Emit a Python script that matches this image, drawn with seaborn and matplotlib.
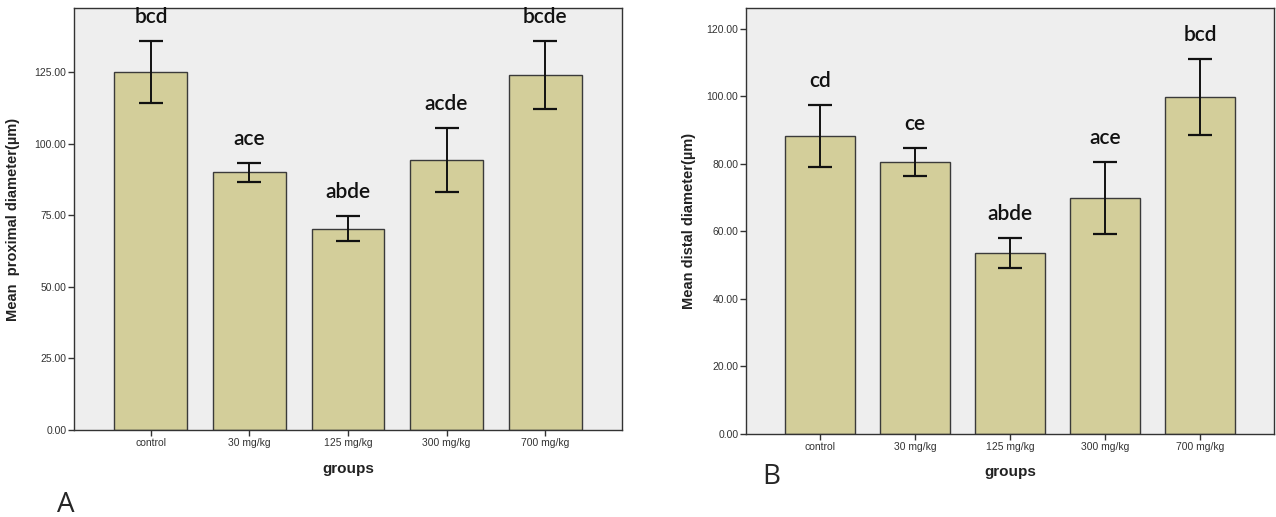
import matplotlib
matplotlib.use("Agg")
import matplotlib.pyplot as plt
import numpy as np
import seaborn as sns

# data
groups = ["control", "30 mg/kg", "125 mg/kg", "300 mg/kg", "700 mg/kg"]

prox_mean = [125.3, 90.1, 70.4, 94.3, 124.0]
prox_low = [114.4, 86.8, 66.0, 83.2, 112.1]
prox_high = [136.0, 93.4, 74.9, 105.6, 136.0]
prox_letters = ["bcd", "ace", "abde", "acde", "bcde"]

dist_mean = [88.4, 80.5, 53.7, 69.9, 99.9]
dist_low = [79.1, 76.4, 49.3, 59.3, 88.7]
dist_high = [97.5, 84.7, 58.2, 80.5, 111.1]
dist_letters = ["cd", "ce", "abde", "ace", "bcd"]

BAR = "#D3CE9A"
BG = "#EEEEEE"
EDGE = "#3a3a3a"

sns.set_theme(style="white")
plt.rcParams["font.family"] = ["Liberation Sans", "DejaVu Sans"]


def panel(ax, means, low, high, letters, ylabel, ymax, step, lab_x, lab_y):
    sns.barplot(x=groups, y=means, color=BAR, width=0.74, errorbar=None,
                edgecolor=EDGE, linewidth=1.0, saturation=1, ax=ax)
    m = np.array(means)
    yerr = [m - np.array(low), np.array(high) - m]
    ax.errorbar(np.arange(len(groups)), m, yerr=yerr, fmt="none",
                ecolor="#111111", elinewidth=1.4, capsize=8.5, capthick=1.6)
    for i, (h, t) in enumerate(zip(high, letters)):
        ax.annotate(t, (i, h), xytext=(0, 10), textcoords="offset points",
                    ha="center", va="bottom", fontsize=15, fontweight="semibold",
                    family=["Lato", "DejaVu Sans"], color="#111111")
    ax.set_facecolor(BG)
    ax.set_xlim(-0.78, 4.78)
    ax.set_ylim(0, ymax)
    ax.set_yticks(np.arange(0, ymax, step))
    ax.yaxis.set_major_formatter(matplotlib.ticker.FormatStrFormatter("%.2f"))
    ax.tick_params(axis="both", direction="out", length=4, width=1,
                   labelsize=7.5, colors="#333333", pad=1.5, left=True, bottom=True)
    for s in ax.spines.values():
        s.set_color("#333333")
        s.set_linewidth(1.0)
    ax.set_ylabel(ylabel, fontsize=10.5, fontweight="bold", color="#222222")
    ax.set_xlabel("groups", fontsize=11, fontweight="bold", color="#222222")
    ax.yaxis.set_label_coords(lab_x, 0.5)
    ax.xaxis.set_label_coords(0.5, lab_y)


fig = plt.figure(figsize=(12.76, 5.17), dpi=100)
axA = fig.add_axes([74 / 1276, 1 - 430 / 517, 548 / 1276, 422 / 517])
axB = fig.add_axes([746 / 1276, 1 - 434 / 517, 528 / 1276, 426 / 517])

panel(axA, prox_mean, prox_low, prox_high, prox_letters,
      "Mean  proximal diameter(µm)", 147.5, 25, -0.098, -0.075)
panel(axB, dist_mean, dist_low, dist_high, dist_letters,
      "Mean distal diameter(µm)", 126.2, 20, -0.095, -0.073)

fig.text(66 / 1276, 1 - 505 / 517, "A", fontsize=20, ha="center", va="center",
         family=["Open Sans", "DejaVu Sans"])
fig.text(771 / 1276, 1 - 477 / 517, "B", fontsize=20, ha="center", va="center",
         family=["Open Sans", "DejaVu Sans"])

fig.savefig("out.png", dpi=100, facecolor="white")
